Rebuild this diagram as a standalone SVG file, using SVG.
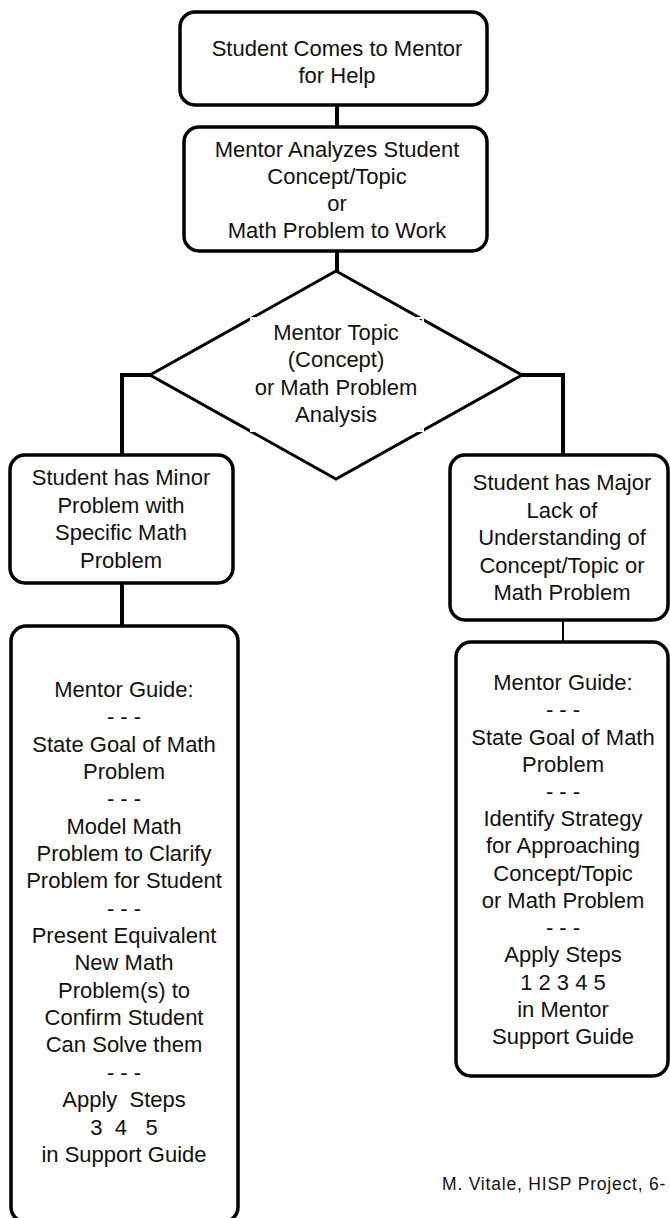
<svg xmlns="http://www.w3.org/2000/svg" width="670" height="1218" viewBox="0 0 670 1218">
<style>
  .box { fill: #ffffff; stroke: #000000; stroke-width: 3.5; }
  .dia { fill: #ffffff; stroke: #000000; stroke-width: 3; }
  .gap { fill: none; stroke: #ffffff; stroke-width: 2; }
  .conn { fill: none; stroke: #000000; stroke-width: 4; }
  .thin { fill: none; stroke: #000000; stroke-width: 2; }
  text { font-family: "Liberation Sans", Arial, sans-serif; font-size: 22px; fill: #111111; text-anchor: middle; white-space: pre; }
  .foot { font-size: 17.5px; text-anchor: start; letter-spacing: 0.8px; }
</style>
<rect width="670" height="1218" fill="#ffffff"/>
<g id="connectors">
  <line class="conn" x1="337" y1="105" x2="337" y2="127"/>
  <line class="conn" x1="337" y1="251" x2="337" y2="272"/>
  <polyline class="conn" points="152,375 122,375 122,455"/>
  <polyline class="conn" points="520,375 563,375 563,455"/>
  <line class="conn" x1="122" y1="583" x2="122" y2="626"/>
  <line class="thin" x1="563" y1="620" x2="563" y2="642"/>
</g>
<g id="n1">
  <rect class="box" x="180" y="12" width="307" height="93" rx="15"/>
  <text x="337" y="56">Student Comes to Mentor</text>
  <text x="337" y="83">for Help</text>
</g>
<g id="n2">
  <rect class="box" x="184" y="127" width="303" height="124" rx="15"/>
  <text x="337" y="157">Mentor Analyzes Student</text>
  <text x="337" y="184">Concept/Topic</text>
  <text x="337" y="211">or</text>
  <text x="337" y="238">Math Problem to Work</text>
</g>
<g id="n3">
  <polygon class="dia" points="336,271 522,375 336,479 150,375"/>
  <rect class="gap" x="251" y="318" width="172" height="113"/>
  <text x="336" y="340">Mentor Topic</text>
  <text x="336" y="367">(Concept)</text>
  <text x="336" y="395">or Math Problem</text>
  <text x="336" y="422">Analysis</text>
</g>
<g id="n4">
  <rect class="box" x="10" y="455" width="223" height="128" rx="15"/>
  <text x="121" y="485">Student has Minor</text>
  <text x="121" y="513">Problem with</text>
  <text x="121" y="540">Specific Math</text>
  <text x="121" y="568">Problem</text>
</g>
<g id="n5">
  <rect class="box" x="450" y="455" width="218" height="165" rx="15"/>
  <text x="562" y="490">Student has Major</text>
  <text x="562" y="518">Lack of</text>
  <text x="562" y="545">Understanding of</text>
  <text x="562" y="573">Concept/Topic or</text>
  <text x="562" y="600">Math Problem</text>
</g>
<g id="n6">
  <rect class="box" x="11" y="626" width="227" height="596" rx="15"/>
  <text x="124" y="697">Mentor Guide:</text>
  <text x="124" y="724">- - -</text>
  <text x="124" y="752">State Goal of Math</text>
  <text x="124" y="779">Problem</text>
  <text x="124" y="806">- - -</text>
  <text x="124" y="834">Model Math</text>
  <text x="124" y="861">Problem to Clarify</text>
  <text x="124" y="888">Problem for Student</text>
  <text x="124" y="916">- - -</text>
  <text x="124" y="943">Present Equivalent</text>
  <text x="124" y="970">New Math</text>
  <text x="124" y="998">Problem(s) to</text>
  <text x="124" y="1025">Confirm Student</text>
  <text x="124" y="1052">Can Solve them</text>
  <text x="124" y="1080">- - -</text>
  <text x="124" y="1107">Apply  Steps</text>
  <text x="124" y="1135">3  4   5</text>
  <text x="124" y="1162">in Support Guide</text>
</g>
<g id="n7">
  <rect class="box" x="456" y="642" width="212" height="434" rx="15"/>
  <text x="563" y="690">Mentor Guide:</text>
  <text x="563" y="717">- - -</text>
  <text x="563" y="745">State Goal of Math</text>
  <text x="563" y="772">Problem</text>
  <text x="563" y="799">- - -</text>
  <text x="563" y="826">Identify Strategy</text>
  <text x="563" y="853">for Approaching</text>
  <text x="563" y="881">Concept/Topic</text>
  <text x="563" y="908">or Math Problem</text>
  <text x="563" y="935">- - -</text>
  <text x="563" y="962">Apply Steps</text>
  <text x="563" y="990">1 2 3 4 5</text>
  <text x="563" y="1017">in Mentor</text>
  <text x="563" y="1044">Support Guide</text>
</g>
<g id="footer">
  <text class="foot" x="442" y="1190">M. Vitale, HISP Project, 6-</text>
</g>
</svg>
